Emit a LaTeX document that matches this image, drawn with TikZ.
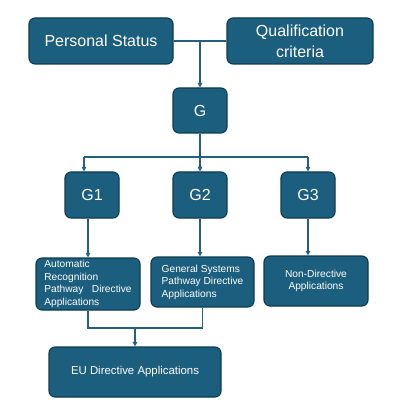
\documentclass[tikz,border=0pt]{standalone}
\usepackage{fontspec}
\setmainfont{Liberation Sans}
\usetikzlibrary{arrows.meta}
\definecolor{boxfill}{HTML}{1B5E7E}
\definecolor{boxedge}{HTML}{0D3B52}
\definecolor{linecol}{HTML}{24607C}
\tikzset{
  box/.style={draw=boxedge, line width=1.1pt, fill=boxfill, rounded corners=6pt, text=white, inner sep=0pt},
  bigtxt/.style={font=\fontsize{16}{20.6}\selectfont, align=center},
  midtxt/.style={font=\fontsize{11.4}{14}\selectfont, align=center},
  smalltxt/.style={font=\fontsize{10.2}{12.6}\selectfont},
  conn/.style={draw=linecol, line width=1.1pt},
  arr/.style={conn, -{Triangle[length=4.5pt,width=4.5pt]}}
}
\begin{document}
\begin{tikzpicture}[x=1pt,y=-1pt]
\useasboundingbox (0,0) rectangle (400,419);
\fill[white] (0,0) rectangle (400,419);
% top row
\node[box,bigtxt,minimum width=144pt,minimum height=46pt] (ps) at (101,41) {Personal Status};
\node[box,bigtxt,minimum width=146pt,minimum height=46pt] (qc) at (300,41) {Qualification\\criteria};
\node[box,bigtxt,minimum width=54pt,minimum height=45pt] (g) at (200,110.5) {G};
% second row
\node[box,bigtxt,minimum width=54pt,minimum height=46pt] (g1) at (92,195) {G1};
\node[box,bigtxt,minimum width=54pt,minimum height=46pt] (g2) at (200,195) {G2};
\node[box,bigtxt,minimum width=54pt,minimum height=46pt] (g3) at (308,195) {G3};
% third row
\node[box,smalltxt,align=left,minimum width=104pt,minimum height=52pt] (a) at (88,284) {Automatic\\Recognition\\Pathway\ \ \ Directive\\Applications};
\node[box,smalltxt,align=left,minimum width=103pt,minimum height=50pt] (b) at (202.5,282) {General Systems\\Pathway Directive\\Applications};
\node[box,smalltxt,align=center,minimum width=104pt,minimum height=50pt] (c) at (316,281) {Non-Directive\\Applications};
% bottom
\node[box,midtxt,minimum width=172pt,minimum height=50pt] (eu) at (135,372) {EU Directive Applications};
% connectors
\coordinate (j1) at (200,41);
\draw[conn] (ps.east) -- (qc.west);
\draw[arr] (j1) -- (g.north);
\coordinate (j2) at (200,157);
\coordinate (h1) at (84,157);
\coordinate (h3) at (308,157);
\draw[conn] (g.south) -- (j2);
\draw[conn] (h1) -- (h3);
\draw[arr] (h1) -- (h1 |- g1.north);
\draw[arr] (j2) -- (g2.north);
\draw[arr] (h3) -- (g3.north);
\draw[arr] (a.north |- g1.south) -- (a.north);
\draw[arr] (g2.south) -- (g2.south |- b.north);
\draw[arr] (g3.south) -- (g3.south |- c.north);
\coordinate (m) at (135,328);
\draw[conn] (a.south) |- (m) -| (b.south);
\draw[arr] (m) -- (eu.north);
\end{tikzpicture}
\end{document}
